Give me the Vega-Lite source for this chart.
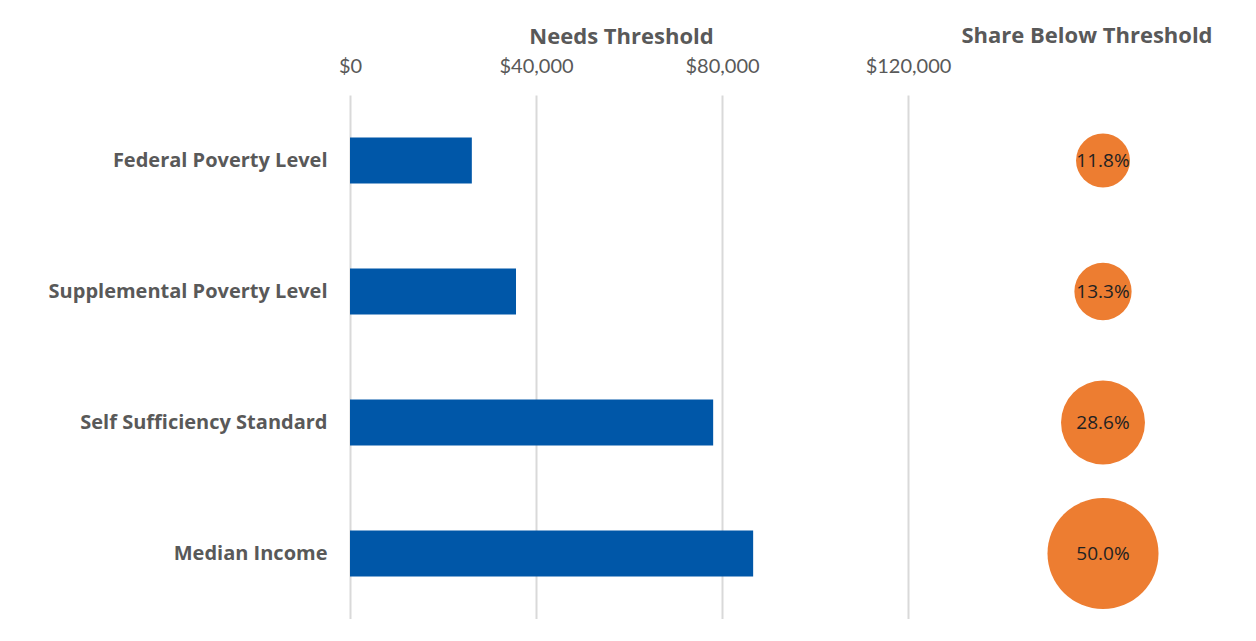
{
  "$schema": "https://vega.github.io/schema/vega-lite/v6.json",
  "padding": {"left": 5, "top": 5, "right": 0, "bottom": 0},
  "background": "white",
  "data": {"values": [
    {"measure": "Federal Poverty Level", "threshold": 26200, "share": 0.118},
    {"measure": "Supplemental Poverty Level", "threshold": 35700, "share": 0.133},
    {"measure": "Self Sufficiency Standard", "threshold": 78100, "share": 0.286},
    {"measure": "Median Income", "threshold": 86700, "share": 0.5}
  ]},
  "spacing": 0,
  "config": {"view": {"stroke": null}, "font": "Lato"},
  "hconcat": [
    {
      "width": 558,
      "height": 524,
      "mark": {"type": "bar", "color": "#0057A8"},
      "encoding": {
        "y": {
          "field": "measure", "type": "nominal", "sort": null,
          "scale": {"paddingInner": 0.65, "paddingOuter": 0.325},
          "axis": {"title": null, "ticks": false, "domain": false, "labelFontWeight": "bold", "labelFontSize": 20, "labelColor": "#595959", "labelPadding": 23, "labelLimit": 340, "minExtent": 345, "maxExtent": 345, "labelFont": "Open Sans"}
        },
        "x": {
          "field": "threshold", "type": "quantitative",
          "scale": {"domain": [0, 120000], "nice": false},
          "axis": {"orient": "top", "values": [0, 40000, 80000, 120000], "format": "$,.0f", "title": "Needs Threshold", "titleFont": "Open Sans", "titleFontSize": 22, "titleFontWeight": "bold", "titleColor": "#595959", "titleX": 271, "titleY": -52, "titleBaseline": "alphabetic", "titleAnchor": "middle", "titleAlign": "center", "labelFontSize": 20, "labelColor": "#595959", "labelPadding": 19, "ticks": false, "domain": false, "grid": true, "gridColor": "#D9D9D9", "gridWidth": 2, "minExtent": 90, "maxExtent": 90, "labelFlush": false}
        }
      }
    },
    {
      "width": 304,
      "height": 524,
      "title": {"text": "Share Below Threshold", "font": "Open Sans", "fontSize": 22, "fontWeight": "bold", "color": "#595959", "dx": -16, "offset": 30, "baseline": "alphabetic", "anchor": "middle"},
      "encoding": {
        "y": {"field": "measure", "type": "nominal", "sort": null, "scale": {"paddingInner": 0.65, "paddingOuter": 0.325}, "axis": null}
      },
      "layer": [
        {
          "mark": {"type": "circle", "color": "#ED7D31", "opacity": 1},
          "encoding": {
            "size": {"field": "share", "type": "quantitative", "scale": {"domain": [0, 0.5], "range": [0, 12321]}, "legend": null}
          }
        },
        {
          "mark": {"type": "text", "fontSize": 19, "color": "#222222", "font": "Open Sans"},
          "encoding": {
            "text": {"field": "share", "type": "quantitative", "format": ".1%"}
          }
        }
      ]
    }
  ]
}
